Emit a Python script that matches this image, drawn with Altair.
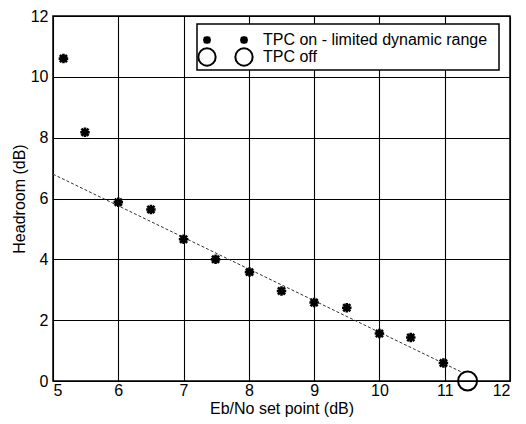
import altair as alt
import pandas as pd

# Data
x_on = [5.16, 5.49, 6.0, 6.5, 7.0, 7.49, 8.01, 8.5, 9.0, 9.5, 10.0, 10.48, 10.98]
y_on = [10.6, 8.18, 5.88, 5.64, 4.66, 4.0, 3.58, 2.96, 2.58, 2.41, 1.56, 1.43, 0.59]
x_off = [11.35]
y_off = [0.0]
fit_x = [5.0, 11.3]
fit_y = [6.8, 0.25]
legend_labels = ["TPC on - limited dynamic range", "TPC off"]

FONT = "Liberation Sans"
STAR = "M0,-1L0,1M-1,0L1,0M-0.75,-0.75L0.75,0.75M-0.75,0.75L0.75,-0.75"

df_on = pd.DataFrame({"x": x_on, "y": y_on})
df_off = pd.DataFrame({"x": x_off, "y": y_off})
df_fit = pd.DataFrame({"x": fit_x, "y": fit_y})

xscale = alt.Scale(domain=[5, 12], nice=False, zero=False)
yscale = alt.Scale(domain=[0, 12], nice=False)

xaxis = alt.Axis(title="Eb/No set point (dB)", values=list(range(5, 13)), format="d",
                 grid=True, ticks=False, labelPadding=1, titlePadding=2)
yaxis = alt.Axis(title="Headroom (dB)", values=list(range(0, 13, 2)), format="d",
                 grid=True, ticks=False, labelPadding=5, titlePadding=3)

fit = alt.Chart(df_fit).mark_line(color="#333333", strokeWidth=1, strokeDash=[3, 2]).encode(
    x=alt.X("x:Q", scale=xscale, axis=xaxis),
    y=alt.Y("y:Q", scale=yscale, axis=yaxis),
)

on = alt.Chart(df_on).mark_point(shape=STAR, size=90, color="black", strokeWidth=2.6,
                                 filled=False, opacity=1).encode(
    x=alt.X("x:Q", scale=xscale), y=alt.Y("y:Q", scale=yscale)
)

off = alt.Chart(df_off).mark_point(shape="circle", size=360, color="black", strokeWidth=2,
                                   filled=False, opacity=1).encode(
    x=alt.X("x:Q", scale=xscale), y=alt.Y("y:Q", scale=yscale)
)

# Legend (MATLAB style, two symbols per entry) inside a boxed area
leg_box = alt.Chart(pd.DataFrame({"a": [0]})).mark_rect(
    fill="white", stroke="black", strokeWidth=1.5).encode(
    x=alt.value(144), x2=alt.value(446), y=alt.value(8), y2=alt.value(54)
)
leg_df = pd.DataFrame({"label": [legend_labels[0]]})
leg_df2 = pd.DataFrame({"label": [legend_labels[1]]})
leg_star1 = alt.Chart(leg_df).mark_point(shape=STAR, size=60, color="black", strokeWidth=2.6,
                                         filled=False, opacity=1).encode(
    x=alt.value(154), y=alt.value(24))
leg_star2 = alt.Chart(leg_df).mark_point(shape=STAR, size=60, color="black", strokeWidth=2.6,
                                         filled=False, opacity=1).encode(
    x=alt.value(191), y=alt.value(24))
leg_c1 = alt.Chart(leg_df2).mark_point(shape="circle", size=300, color="black", strokeWidth=2,
                                       filled=False, opacity=1).encode(
    x=alt.value(154), y=alt.value(41))
leg_c2 = alt.Chart(leg_df2).mark_point(shape="circle", size=300, color="black", strokeWidth=2,
                                       filled=False, opacity=1).encode(
    x=alt.value(191), y=alt.value(41))
leg_t1 = alt.Chart(leg_df).mark_text(align="left", baseline="middle", font=FONT, fontSize=16,
                                     color="black").encode(
    x=alt.value(210), y=alt.value(24), text="label:N")
leg_t2 = alt.Chart(leg_df2).mark_text(align="left", baseline="middle", font=FONT, fontSize=16,
                                      color="black").encode(
    x=alt.value(210), y=alt.value(41), text="label:N")

chart = alt.layer(fit, on, off, leg_box, leg_star1, leg_star2, leg_c1, leg_c2, leg_t1, leg_t2).properties(
    width=457, height=365,
    autosize=alt.AutoSizeParams(type="none"),
    padding={"left": 53, "top": 16, "right": 16, "bottom": 43},
    background="white",
).configure_view(
    stroke="black", strokeWidth=1.5
).configure_axis(
    domain=False, gridColor="black", gridWidth=1.1, gridOpacity=1,
    labelFont=FONT, labelFontSize=16, labelColor="black",
    titleFont=FONT, titleFontSize=16, titleFontWeight="normal", titleColor="black",
)

chart.save("out.html", embed_options={"renderer": "svg", "actions": False})
